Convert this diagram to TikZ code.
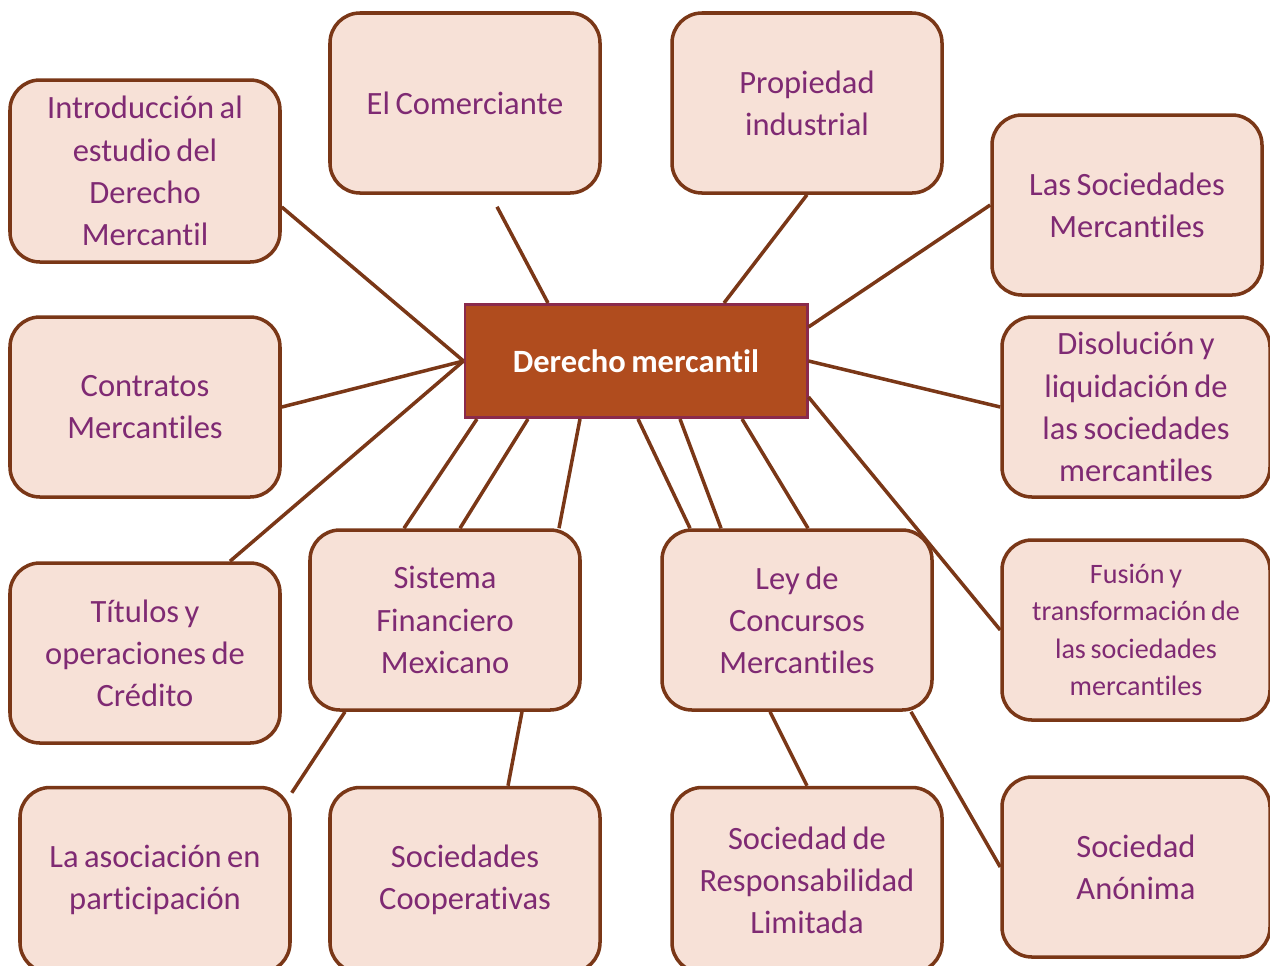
\documentclass[tikz,border=0pt]{standalone}
\usepackage{fontspec}
\setmainfont{Carlito}[Ligatures=NoCommon, WordSpace=0.75]
\definecolor{cajafondo}{HTML}{F7E1D7}
\definecolor{cajaborde}{HTML}{7A3717}
\definecolor{letra}{HTML}{7F2A73}
\definecolor{centrofondo}{HTML}{B04C1E}
\definecolor{centroborde}{HTML}{8A2A4C}
\tikzset{
	tema/.style={draw=cajaborde, fill=cajafondo, line width=2pt, rounded corners=0.6cm,
		minimum width=5.4cm, minimum height=3.6cm, inner sep=0pt, align=center, text=letra},
	centro/.style={draw=centroborde, fill=centrofondo, line width=1.7pt,
		minimum width=6.84cm, minimum height=2.26cm, inner sep=0pt, text=white, font=\bfseries},
	rama/.style={draw=cajaborde, line width=2pt}
}
\begin{document}
\begin{tikzpicture}
	\fontsize{18.5}{24}\selectfont
	\useasboundingbox (0,0) rectangle (25.4,-19.3);

	\node[centro] (cm) at (12.72,-7.22) {Derecho mercantil};

	\node[tema, minimum height=3.64cm] (intro) at (2.9,-3.42) {Introducción al\\estudio del\\Derecho\\Mercantil};
	\node[tema] (comer) at (9.3,-2.06) {El Comerciante};
	\node[tema] (prop) at (16.14,-2.06) {Propiedad\\industrial};
	\node[tema] (socmer) at (22.54,-4.1) {Las Sociedades\\Mercantiles};
	\node[tema] (contr) at (2.9,-8.14) {Contratos\\Mercantiles};
	\node[tema, minimum width=5.36cm] (disol) at (22.72,-8.14) {Disolución y\\liquidación de\\las sociedades\\mercantiles};
	\node[tema] (titul) at (2.9,-13.06) {Títulos y\\operaciones de\\Crédito};
	\node[tema] (sistema) at (8.9,-12.4) {Sistema\\Financiero\\Mexicano};
	\node[tema] (ley) at (15.94,-12.4) {Ley de\\Concursos\\Mercantiles};
	\node[tema, minimum width=5.36cm, font=\fontsize{16}{21.3}\selectfont] (fusion) at (22.72,-12.6) {Fusión y\\transformación de\\las sociedades\\mercantiles};
	\node[tema, minimum height=3.7cm] (asoc) at (3.1,-17.6) {La asociación en\\participación};
	\node[tema, minimum height=3.7cm] (coop) at (9.3,-17.6) {Sociedades\\Cooperativas};
	\node[tema, minimum height=3.7cm] (srl) at (16.14,-17.6) {Sociedad de\\Responsabilidad\\Limitada};
	\node[tema, minimum width=5.36cm] (anon) at (22.72,-17.34) {Sociedad\\Anónima};

	\draw[rama] ([yshift=-0.72cm]intro.east) -- (cm.west);
	\draw[rama] ([xshift=0.64cm,yshift=-0.24cm]comer.south) -- ([xshift=-1.76cm]cm.north);
	\draw[rama] (prop.south) -- ([xshift=1.76cm]cm.north);
	\draw[rama] (socmer.west) -- ([yshift=0.68cm]cm.east);
	\draw[rama] (contr.east) -- (cm.west);
	\draw[rama] (cm.east) -- (disol.west);
	\draw[rama] ([xshift=1.7cm]titul.north) -- (cm.west);
	\draw[rama] ([yshift=-0.72cm]cm.east) -- (fusion.west);
	\draw[rama] ([xshift=-3.18cm]cm.south) -- ([xshift=-0.82cm]sistema.north);
	\draw[rama] ([xshift=-2.16cm]cm.south) -- ([xshift=0.3cm]sistema.north);
	\draw[rama] ([xshift=-1.12cm]cm.south) -- ([xshift=2.28cm]sistema.north);
	\draw[rama] ([xshift=0.04cm]cm.south) -- ([xshift=-2.14cm]ley.north);
	\draw[rama] ([xshift=0.88cm]cm.south) -- ([xshift=-1.52cm]ley.north);
	\draw[rama] ([xshift=2.12cm]cm.south) -- ([xshift=0.22cm]ley.north);
	\draw[rama] ([xshift=-2cm]sistema.south) -- ([yshift=-0.14cm]asoc.north east);
	\draw[rama] ([xshift=1.54cm]sistema.south) -- ([xshift=0.86cm]coop.north);
	\draw[rama] ([xshift=-0.54cm]ley.south) -- (srl.north);
	\draw[rama] ([xshift=2.28cm]ley.south) -- (anon.west);
\end{tikzpicture}
\end{document}
